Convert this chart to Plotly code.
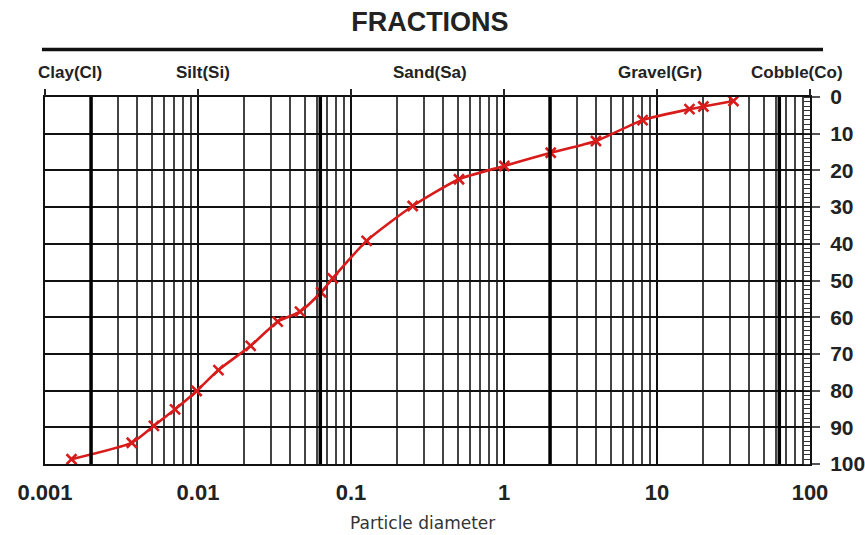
import plotly.graph_objects as go

# ---- data ----
diameter = [0.00149, 0.00369, 0.00515, 0.00708, 0.0098, 0.0136, 0.0221, 0.0332,
            0.0464, 0.0637, 0.0759, 0.1265, 0.253, 0.508, 1.005, 2.02, 3.99,
            8.05, 16.3, 20.1, 31.6]
percent = [98.7, 94.2, 89.6, 85.1, 80.1, 74.4, 67.8, 61.2, 58.5, 53.2, 49.4,
           39.2, 29.7, 22.4, 18.8, 15.2, 12.0, 6.3, 3.3, 2.6, 1.1]

fraction_names = ["Clay(Cl)", "Silt(Si)", "Sand(Sa)", "Gravel(Gr)", "Cobble(Co)"]
fraction_label_pos = [0.033, 0.207, 0.503, 0.804, 0.983]   # paper x
fraction_bounds = [0.002, 0.063, 2, 63]

x_tickvals = [0.001, 0.01, 0.1, 1, 10, 100]
x_ticktext = ["0.001", "0.01", "0.1", "1", "10", "100"]
y_tickvals = [0, 10, 20, 30, 40, 50, 60, 70, 80, 90, 100]

TXT = "Liberation Sans, Arial, sans-serif"
RED = "#d81c1c"

fig = go.Figure()
fig.add_trace(go.Scatter(
    x=diameter, y=percent, mode="lines+markers",
    line=dict(color=RED, width=2.6, shape="spline", smoothing=0.6),
    marker=dict(symbol="x-thin", size=10, line=dict(color=RED, width=2.6)),
    showlegend=False, hoverinfo="x+y"))

# top axis carrying decade tick marks
fig.add_trace(go.Scatter(x=[x_tickvals[0], x_tickvals[-1]], y=[None, None],
                         xaxis="x2", showlegend=False, hoverinfo="skip"))

shapes = []
for b in fraction_bounds:
    shapes.append(dict(type="line", xref="x", yref="paper", x0=b, x1=b, y0=0, y1=1,
                       line=dict(color="#000", width=3.5), layer="above"))
shapes.append(dict(type="line", xref="paper", yref="paper", x0=-0.004, x1=1.017,
                   y0=1.1294, y1=1.1294, line=dict(color="#111", width=3.5)))
fig.update_layout(shapes=shapes)

annotations = []
for name, px in zip(fraction_names, fraction_label_pos):
    annotations.append(dict(text="<b>%s</b>" % name, xref="paper", yref="paper",
                            x=px, y=1.068, xanchor="center", yanchor="middle",
                            showarrow=False, font=dict(family=TXT, size=17, color="#222")))
annotations.append(dict(text="Particle diameter", xref="paper", yref="paper",
                        x=0.493, y=-0.161, xanchor="center", yanchor="middle",
                        showarrow=False, font=dict(family="DejaVu Sans", size=17, color="#333")))
fig.update_layout(annotations=annotations)

fig.update_layout(
    width=865, height=535,
    margin=dict(l=45, r=55, t=97, b=71, autoexpand=False),
    paper_bgcolor="white", plot_bgcolor="white",
    title=dict(text="<b>FRACTIONS</b>", x=0.497, xref="container", xanchor="center",
               y=1 - 22 / 535, yref="container", yanchor="middle",
               font=dict(family=TXT, size=27, color="#222")),
    xaxis=dict(type="log", range=[-3, 2], tickvals=x_tickvals, ticktext=x_ticktext,
               ticks="", ticklabelstandoff=8, automargin=False,
               tickfont=dict(family=TXT, size=22, color="#222", weight="bold"),
               showgrid=True, gridcolor="#111", gridwidth=1.8,
               minor=dict(showgrid=True, gridcolor="#444", gridwidth=1.7,
                          dtick="D1", ticks=""),
               showline=True, linecolor="#111", linewidth=2, mirror=True,
               zeroline=False),
    xaxis2=dict(type="log", range=[-3, 2], overlaying="x", side="top",
                tickvals=x_tickvals, showticklabels=False, ticks="outside",
                ticklen=7, tickwidth=1.5, tickcolor="#222", showgrid=False,
                showline=False, zeroline=False, automargin=False),
    yaxis=dict(range=[100, 0], side="right", tickvals=y_tickvals,
               ticks="outside", ticklen=8, tickwidth=1.5, tickcolor="#555",
               ticklabelstandoff=6, automargin=False,
               tickfont=dict(family=TXT, size=21, color="#222", weight="bold"),
               showgrid=True, gridcolor="#111", gridwidth=2,
               minor=dict(dtick=1.25, ticks="inside", ticklen=6, tickwidth=1.2,
                          tickcolor="#333", showgrid=False),
               showline=True, linecolor="#111", linewidth=2, mirror=True,
               zeroline=False),
)

fig.write_html("out.html", config={"displayModeBar": False},
               post_script="document.body.style.margin='0';document.body.style.overflow='hidden';")
